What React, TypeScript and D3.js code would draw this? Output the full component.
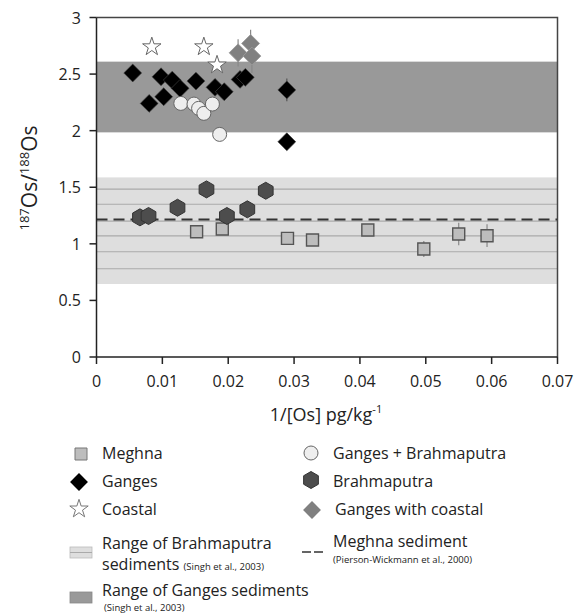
import React from 'react';
import * as d3 from 'd3';

type Pt = { x: number; y: number; err?: number };

// values
const meghna: Pt[] = [
  { x: 0.0152, y: 1.107 },
  { x: 0.0191, y: 1.131 },
  { x: 0.029, y: 1.048 },
  { x: 0.0328, y: 1.034 },
  { x: 0.0412, y: 1.122 },
  { x: 0.0497, y: 0.954, err: 0.07 },
  { x: 0.055, y: 1.087, err: 0.1 },
  { x: 0.0593, y: 1.072, err: 0.1 },
];

const ganges: Pt[] = [
  { x: 0.0055, y: 2.51 },
  { x: 0.0098, y: 2.476 },
  { x: 0.0115, y: 2.447 },
  { x: 0.0127, y: 2.374 },
  { x: 0.0151, y: 2.438 },
  { x: 0.008, y: 2.241 },
  { x: 0.0102, y: 2.3 },
  { x: 0.018, y: 2.383 },
  { x: 0.0194, y: 2.344 },
  { x: 0.0218, y: 2.453 },
  { x: 0.0226, y: 2.471 },
  { x: 0.0289, y: 2.36, err: 0.1 },
  { x: 0.0289, y: 1.902, err: 0.07 },
];

const coastal: Pt[] = [
  { x: 0.0084, y: 2.741 },
  { x: 0.0163, y: 2.741 },
  { x: 0.0183, y: 2.58 },
];

const gangesBrahma: Pt[] = [
  { x: 0.0128, y: 2.241 },
  { x: 0.0148, y: 2.235 },
  { x: 0.0155, y: 2.197 },
  { x: 0.0163, y: 2.153 },
  { x: 0.0176, y: 2.235 },
  { x: 0.0187, y: 1.967 },
];

const brahmaputra: Pt[] = [
  { x: 0.0066, y: 1.234 },
  { x: 0.0079, y: 1.246 },
  { x: 0.0123, y: 1.319 },
  { x: 0.0167, y: 1.481 },
  { x: 0.0198, y: 1.246 },
  { x: 0.0229, y: 1.305 },
  { x: 0.0257, y: 1.469 },
];

const gangesCoastal: Pt[] = [
  { x: 0.0215, y: 2.688, err: 0.12 },
  { x: 0.0234, y: 2.771, err: 0.12 },
  { x: 0.0236, y: 2.659, err: 0.15 },
];

const gangesRange = [1.985, 2.61];
const brahmaRange = [0.645, 1.587];
const brahmaLines = [1.484, 1.35, 1.2, 1.07, 0.93, 0.78];
const meghnaSediment = 1.216;

const xTicks = [0, 0.01, 0.02, 0.03, 0.04, 0.05, 0.06, 0.07];
const yTicks = [0, 0.5, 1, 1.5, 2, 2.5, 3];

const W = 578;
const H = 613;
const font = '"Open Sans", "DejaVu Sans", sans-serif';

const x = d3.scaleLinear().domain([0, 0.07]).range([96.5, 557.5]);
const y = d3.scaleLinear().domain([0, 3]).range([357, 17.5]);

const diamond = d3.symbol().type(d3.symbolSquare).size(160)();
const square = d3.symbol().type(d3.symbolSquare).size(144)();
const star = d3.symbol().type(d3.symbolStar).size(105)();
const hexagon = d3
  .lineRadial<number>()
  .angle(d => d)
  .radius(8.5)
  .curve(d3.curveLinearClosed)(d3.range(6).map(i => (i * Math.PI) / 3));

const fmt = (v: number) => (v === 0 ? '0' : String(v));

const ErrBars = ({ data, color }: { data: Pt[]; color: string }) => (
  <g stroke={color} strokeWidth={1.2}>
    {data
      .filter(d => d.err)
      .map((d, i) => (
        <line key={i} x1={x(d.x)} x2={x(d.x)} y1={y(d.y + (d.err ?? 0))} y2={y(d.y - (d.err ?? 0))} />
      ))}
  </g>
);

const App: React.FC = () => {
  const [x0, x1] = x.range();
  const [y0, y1] = y.range();
  return (
    <svg
      width={W}
      height={H}
      style={{ position: 'absolute', left: 0, top: 0, background: '#fff' }}
      fontFamily={font}
    >
      {/* sediment ranges */}
      <rect x={x0} width={x1 - x0} y={y(gangesRange[1])} height={y(gangesRange[0]) - y(gangesRange[1])} fill="#999" />
      <rect x={x0} width={x1 - x0} y={y(brahmaRange[1])} height={y(brahmaRange[0]) - y(brahmaRange[1])} fill="#dedede" />
      {brahmaLines.map((v, i) => (
        <line key={i} x1={x0} x2={x1} y1={y(v)} y2={y(v)} stroke="#aaa" strokeWidth={1.2} />
      ))}
      <line x1={x0} x2={x1} y1={y(meghnaSediment)} y2={y(meghnaSediment)} stroke="#333" strokeWidth={2} strokeDasharray="11,6" />

      {/* axes frame */}
      <path d={`M${x0},${y1}H${x1}V${y0}`} fill="none" stroke="#444" strokeWidth={1.5} />
      <line x1={x0} x2={x1} y1={y0} y2={y0} stroke="#222" strokeWidth={1.5} />
      <line x1={x0} x2={x0} y1={y0} y2={y1} stroke="#222" strokeWidth={1.5} />
      {xTicks.map(t => (
        <g key={t}>
          <line x1={x(t)} x2={x(t)} y1={y0} y2={y0 + 7} stroke="#222" strokeWidth={1.5} />
          <text x={x(t)} y={387} textAnchor="middle" fontSize={16} fill="#222">
            {fmt(t)}
          </text>
        </g>
      ))}
      {yTicks.map(t => (
        <g key={t}>
          <line x1={x0 - 7} x2={x0} y1={y(t)} y2={y(t)} stroke="#222" strokeWidth={1.5} />
          <text x={81} y={y(t) + 6} textAnchor="end" fontSize={16} fill="#222">
            {fmt(t)}
          </text>
        </g>
      ))}
      <text x={326} y={421} textAnchor="middle" fontSize={18} fill="#222">
        1/[Os] pg/kg<tspan fontSize={11} dy={-8}>-1</tspan>
      </text>
      <text transform="translate(37,178) rotate(-90)" textAnchor="middle" fontSize={21} fill="#222">
        <tspan fontSize={13} dy={-8}>187</tspan>
        <tspan dy={8}>Os/</tspan>
        <tspan fontSize={13} dy={-8}>188</tspan>
        <tspan dy={8}>Os</tspan>
      </text>

      {/* error bars */}
      <ErrBars data={meghna} color="#888" />
      <ErrBars data={ganges} color="#555" />
      <ErrBars data={gangesCoastal} color="#888" />

      {/* data */}
      {meghna.map((d, i) => (
        <path key={i} d={square ?? ''} transform={`translate(${x(d.x)},${y(d.y)})`} fill="#bdbdbd" stroke="#555" strokeWidth={1.4} />
      ))}
      {brahmaputra.map((d, i) => (
        <path key={i} d={hexagon ?? ''} transform={`translate(${x(d.x)},${y(d.y)})`} fill="#4d4d4d" stroke="#333" strokeWidth={1} />
      ))}
      {ganges.map((d, i) => (
        <path key={i} d={diamond ?? ''} transform={`translate(${x(d.x)},${y(d.y)}) rotate(45)`} fill="#000" stroke="#444" strokeWidth={0.6} />
      ))}
      {gangesBrahma.map((d, i) => (
        <circle key={i} cx={x(d.x)} cy={y(d.y)} r={7} fill="#eee" stroke="#666" strokeWidth={1} />
      ))}
      {coastal.map((d, i) => (
        <path key={i} d={star ?? ''} transform={`translate(${x(d.x)},${y(d.y)})`} fill="#fff" stroke="#666" strokeWidth={1} />
      ))}
      {gangesCoastal.map((d, i) => (
        <path key={i} d={diamond ?? ''} transform={`translate(${x(d.x)},${y(d.y)}) rotate(45)`} fill="#808080" stroke="#999" strokeWidth={0.8} />
      ))}

      {/* legend */}
      <g fontSize={16} fill="#222">
        <path d={square ?? ''} transform="translate(81,454)" fill="#bdbdbd" stroke="#777" strokeWidth={1} />
        <text x={102} y={459}>Meghna</text>
        <path d={diamond ?? ''} transform="translate(79,482) rotate(45)" fill="#000" />
        <text x={102} y={487}>Ganges</text>
        <path d={star ?? ''} transform="translate(79,509)" fill="#fff" stroke="#777" strokeWidth={1} />
        <text x={102} y={515}>Coastal</text>
        <rect x={70} y={547} width={22} height={11} fill="#dedede" stroke="#bbb" strokeWidth={0.8} />
        <line x1={70} x2={92} y1={552.5} y2={552.5} stroke="#aaa" strokeWidth={1} />
        <text x={102} y={549}>Range of Brahmaputra</text>
        <text x={102} y={570}>
          sediments <tspan fontSize={9.5}>(Singh et al., 2003)</tspan>
        </text>
        <rect x={70} y={592} width={22} height={11} fill="#999" stroke="#888" strokeWidth={0.8} />
        <text x={102} y={596}>Range of Ganges sediments</text>
        <text x={104} y={611} fontSize={9.5}>(Singh et al., 2003)</text>

        <circle cx={311} cy={453} r={7} fill="#eee" stroke="#666" strokeWidth={1} />
        <text x={333} y={459}>Ganges + Brahmaputra</text>
        <path d={hexagon ?? ''} transform="translate(311,480)" fill="#4d4d4d" stroke="#333" />
        <text x={333} y={487}>Brahmaputra</text>
        <path d={diamond ?? ''} transform="translate(312,510) rotate(45)" fill="#808080" />
        <text x={335} y={515}>Ganges with coastal</text>
        <line x1={302} x2={323} y1={552} y2={552} stroke="#333" strokeWidth={1.5} strokeDasharray="9,3" />
        <text x={333} y={547}>Meghna sediment</text>
        <text x={333} y={563} fontSize={9.5}>(Pierson-Wickmann et al., 2000)</text>
      </g>
    </svg>
  );
};

export default App;
